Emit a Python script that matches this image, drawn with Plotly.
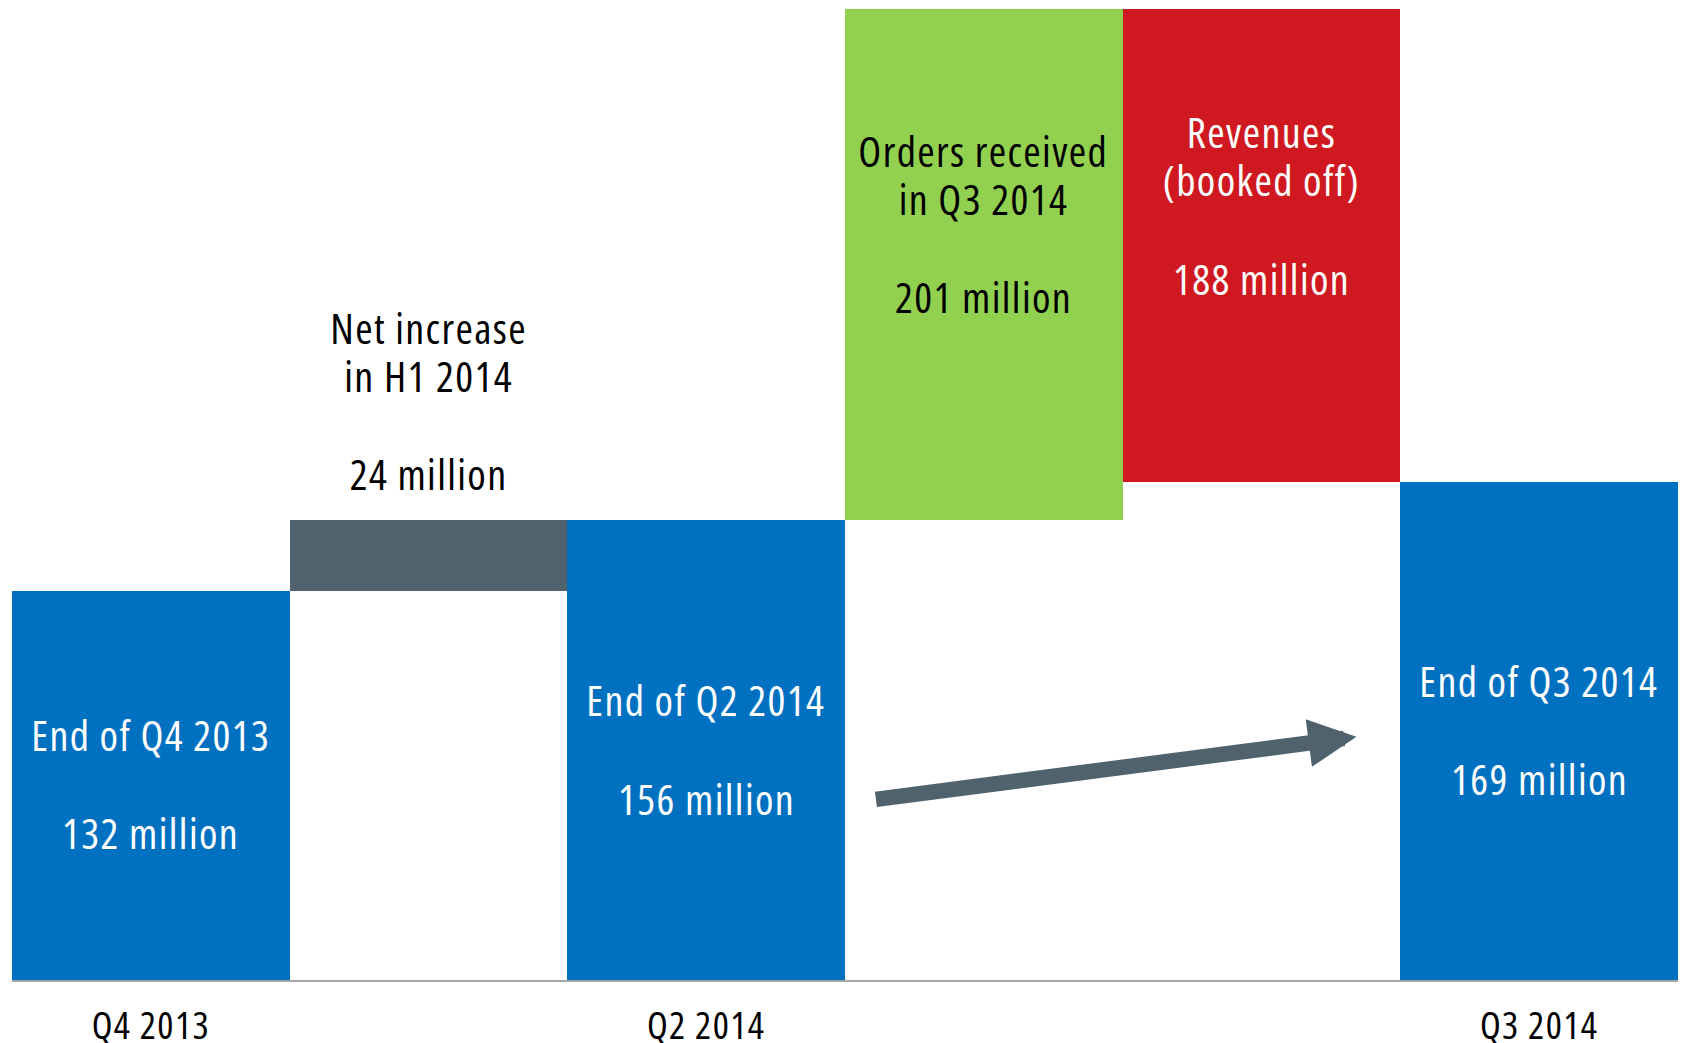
import plotly.graph_objects as go

# ---- data ----
categories = ["Q4 2013", "Net increase", "Q2 2014", "Orders", "Revenues", "Q3 2014"]
measures = ["total", "relative", "total", "relative", "relative", "total"]
values = [132, 24, 156, 201, -188, 169]
bar_colors = ["#0070C0", "#51626F", "#0070C0", "#92D050", "#CF1820", "#0070C0"]
tick_vals = ["Q4 2013", "Q2 2014", "Q3 2014"]
tick_text = ["Q4 2013", "Q2 2014", "Q3 2014"]

# text lines inside/above bars: (category, text, y-centre in data units, colour)
label_lines = [
    ("Q4 2013", "End of Q4 2013", 83.2, "white"),
    ("Q4 2013", "132 million", 50.2, "white"),
    ("Net increase", "Net increase", 221.4, "black"),
    ("Net increase", "in H1 2014", 205.0, "black"),
    ("Net increase", "24 million", 171.9, "black"),
    ("Q2 2014", "End of Q2 2014", 95.3, "white"),
    ("Q2 2014", "156 million", 61.7, "white"),
    ("Orders", "Orders received", 281.4, "black"),
    ("Orders", "in Q3 2014", 265.0, "black"),
    ("Orders", "201 million", 231.9, "black"),
    ("Revenues", "Revenues", 287.9, "white"),
    ("Revenues", "(booked off)", 271.6, "white"),
    ("Revenues", "188 million", 238.0, "white"),
    ("Q3 2014", "End of Q3 2014", 101.7, "white"),
    ("Q3 2014", "169 million", 68.3, "white"),
]

# ---- waterfall geometry from the data ----
bases, heights = [], []
level = 0
for m, v in zip(measures, values):
    if m == "total":
        bases.append(0)
        heights.append(v)
        level = v
    else:
        if v >= 0:
            bases.append(level)
            heights.append(v)
        else:
            bases.append(level + v)
            heights.append(-v)
        level += v

FONT = "Open Sans, Liberation Sans, Arial, sans-serif"

fig = go.Figure()
fig.add_trace(go.Bar(
    x=categories, y=heights, base=bases,
    marker=dict(color=bar_colors, line=dict(width=0)),
    hoverinfo="skip", showlegend=False,
))

annotations = []
for cat, txt, yc, col in label_lines:
    annotations.append(dict(
        x=cat, y=yc, xref="x", yref="y", text=txt, showarrow=False,
        xanchor="center", yanchor="middle",
        font=dict(family=FONT, size=42, color=col),
    ))

# trend arrow from Q2 2014 level towards Q3 2014
annotations.append(dict(
    x=4.342, y=82.5, xref="x", yref="y",
    ax=2.606, ay=61.2, axref="x", ayref="y",
    text="", showarrow=True, arrowhead=2, arrowsize=0.62,
    arrowwidth=15.5, arrowcolor="#51626F", standoff=0,
))

fig.update_layout(
    width=1681, height=1043,
    margin=dict(l=12, r=3, t=9, b=63),
    paper_bgcolor="white", plot_bgcolor="white",
    bargap=0,
    annotations=annotations,
    xaxis=dict(
        type="category", categoryorder="array", categoryarray=categories,
        tickvals=tick_vals, ticktext=tick_text,
        showline=True, linecolor="#A6A6A6", linewidth=2,
        showgrid=False, zeroline=False, ticks="",
        tickfont=dict(family=FONT, size=38, color="black"),
        ticklabelstandoff=11, automargin=False,
        range=[-0.5, len(categories) - 0.5],
    ),
    yaxis=dict(
        range=[0, 329.4], visible=False, showgrid=False, zeroline=False,
        automargin=False,
    ),
)

# condensed face of Open Sans, slightly tracked out to match the narrow original font
post = (
    "document.body.style.margin='0px';"
    "var st=document.createElement('style');"
    "st.textContent='svg text{font-stretch:75% !important;letter-spacing:1.4px;}';"
    "document.head.appendChild(st);"
)
fig.write_html("out.html", post_script=post, config={"displayModeBar": False})
